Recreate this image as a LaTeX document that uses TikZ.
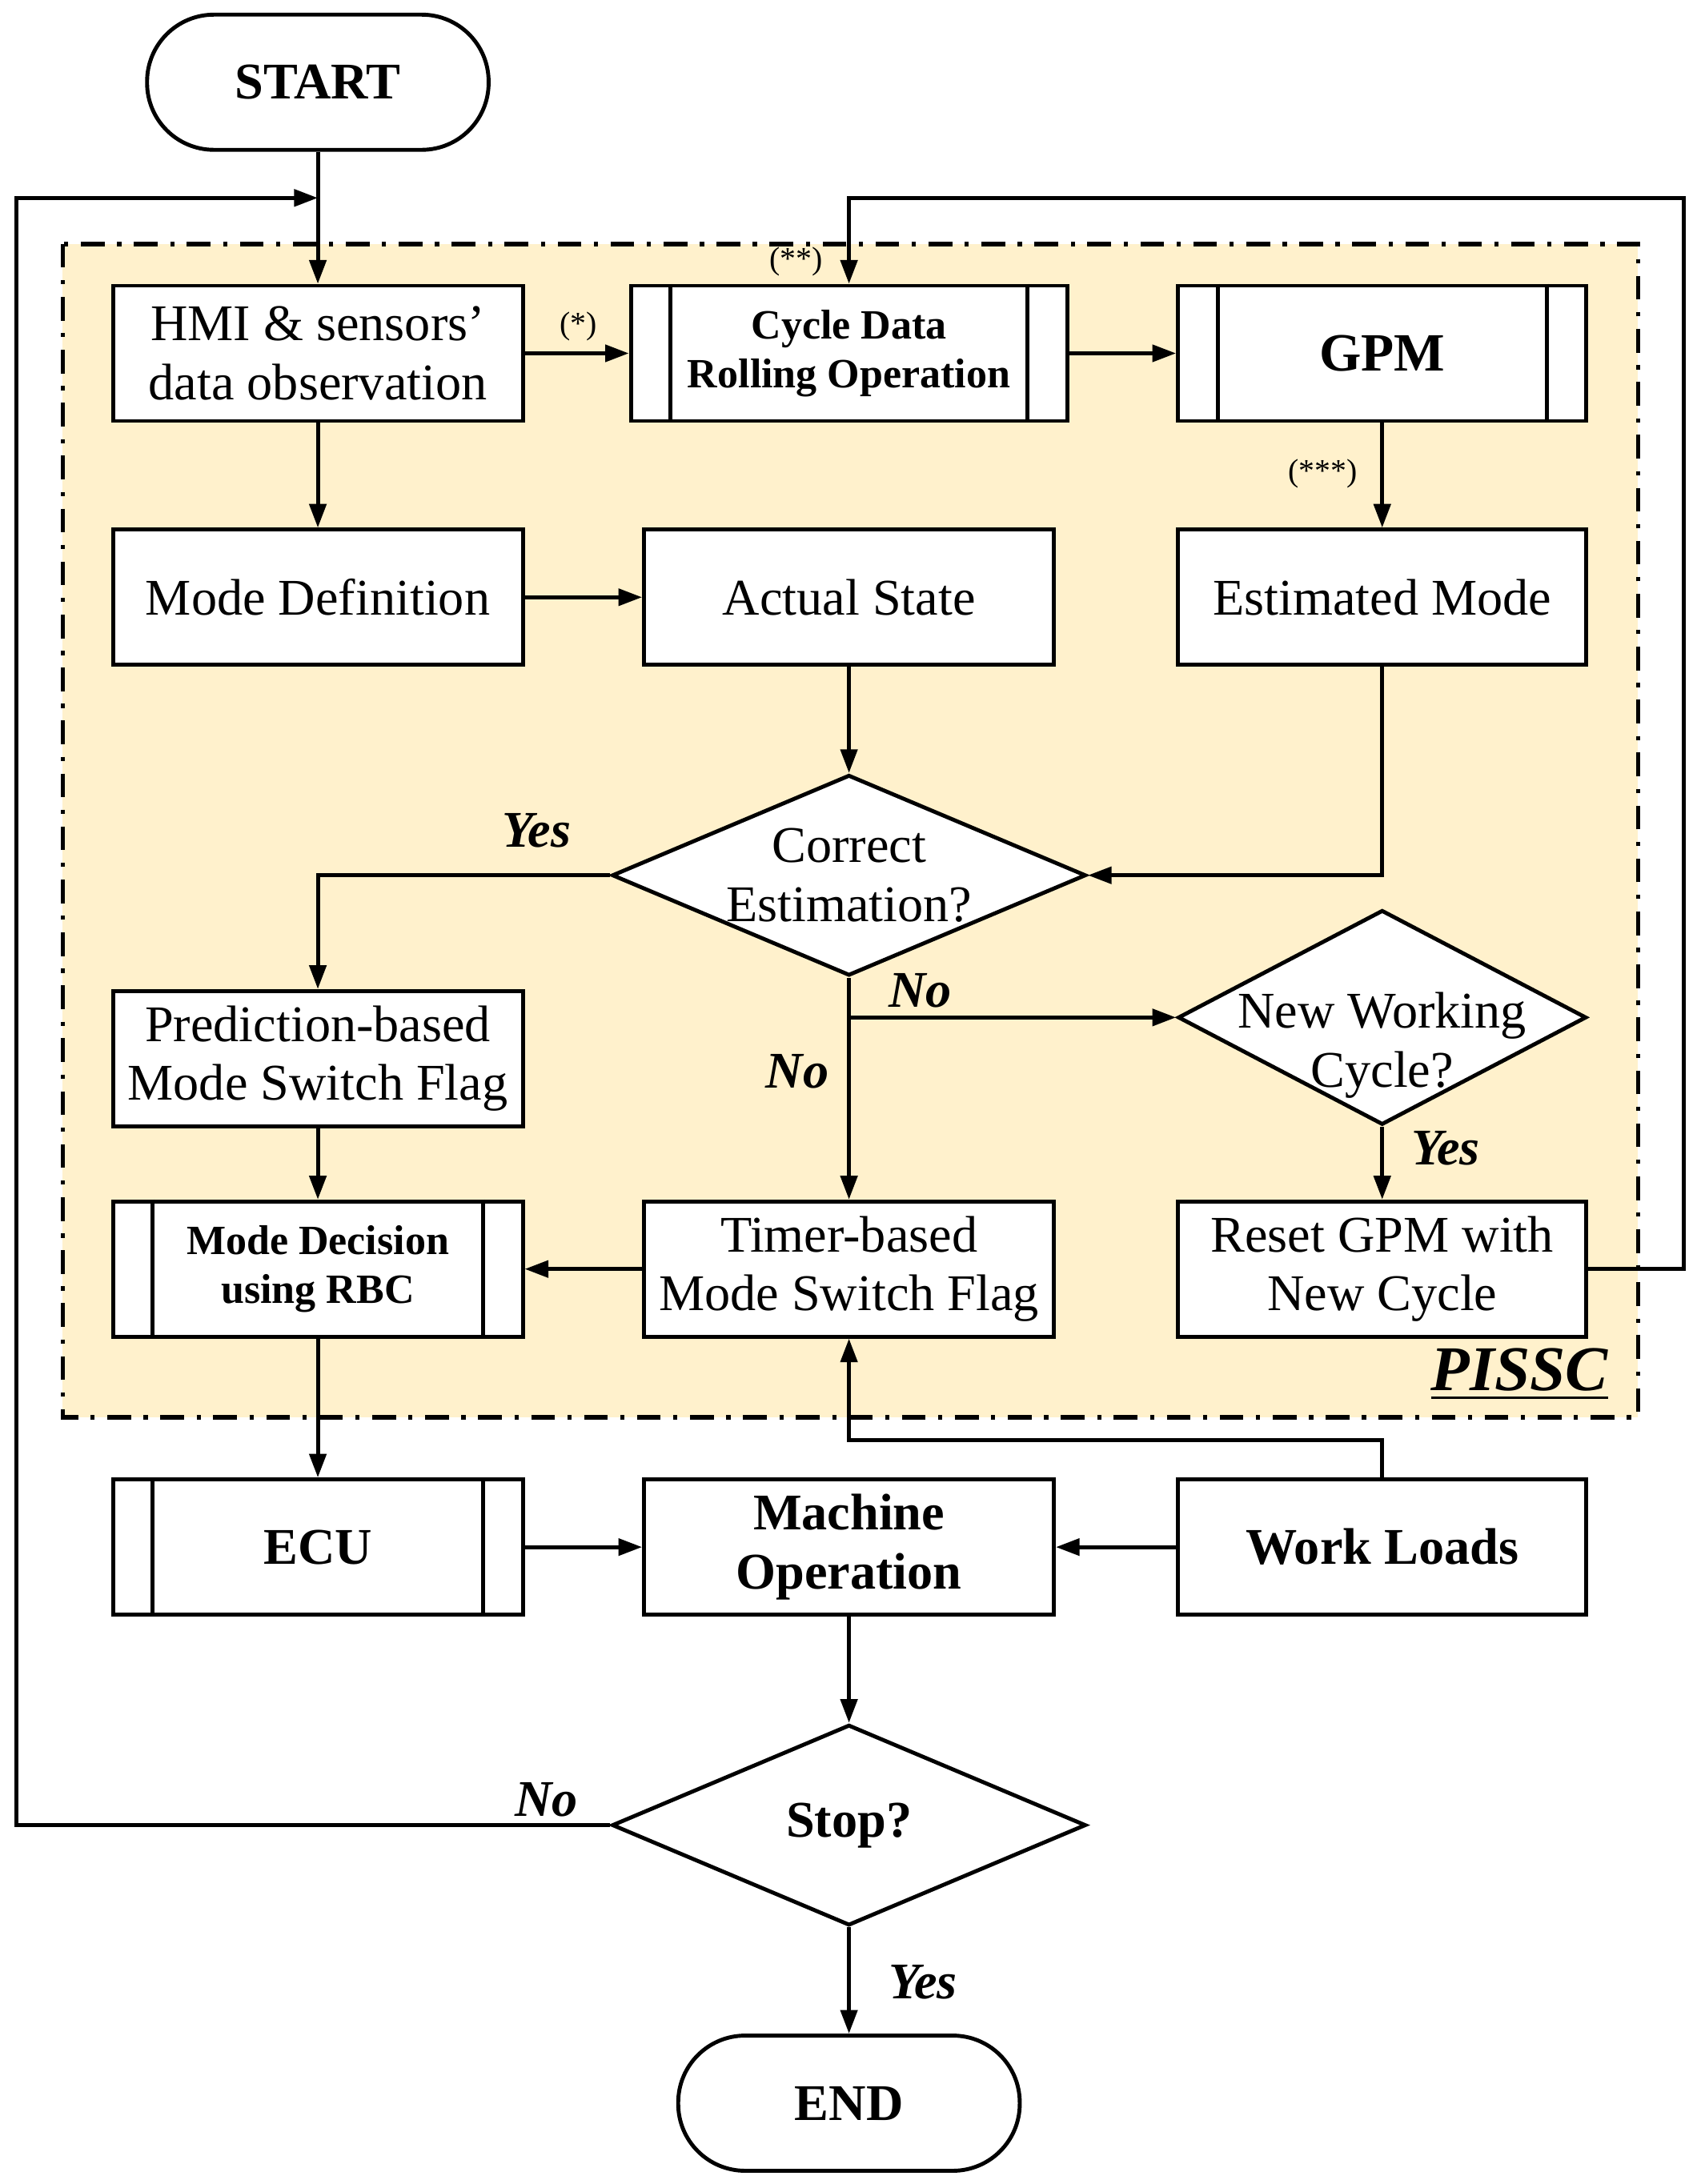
\documentclass[tikz,border=0pt]{standalone}
\usepackage{fontspec}
\setmainfont{Liberation Serif}
\usetikzlibrary{shapes.geometric,arrows.meta}
\definecolor{pisscbg}{RGB}{255,241,204}
\tikzset{
  box/.style={draw, fill=white, rectangle, minimum width=2.94cm, minimum height=0.97cm, align=center, inner sep=1pt, font=\fontsize{10.5}{12}\selectfont},
  subbox/.style={box, font=\fontsize{8.5}{10}\selectfont\bfseries},
  bigbox/.style={box, font=\fontsize{10.5}{12}\selectfont\bfseries},
  term/.style={draw, fill=white, rounded corners=4.8mm, minimum width=2.45cm, minimum height=0.97cm, font=\fontsize{10.5}{12}\selectfont\bfseries},
  decide/.style={draw, fill=white, diamond, inner sep=0pt, minimum width=3.4cm, minimum height=1.44cm},
  dtext/.style={align=center, font=\fontsize{10.5}{12}\selectfont},
  tag/.style={font=\fontsize{10.5}{12}\selectfont\bfseries\itshape},
  note/.style={font=\fontsize{6.5}{7}\selectfont},
  arr/.style={-{Triangle[length=1.7mm,width=1.2mm]}},
}
\begin{document}
\begin{tikzpicture}[x=1cm,y=-1cm,line width=0.8pt]
\useasboundingbox (0,0) rectangle (12.2,15.67);
% PISSC region
\draw[fill=pisscbg, line width=0.9pt, dash pattern=on 1.7mm off 0.9mm on 0.3mm off 0.9mm] (0.45,1.75) rectangle (11.75,10.17);
\node[font=\fontsize{13}{15}\selectfont\bfseries\itshape] (pissc) at (10.90,9.86) {\underline{PISSC}};
% nodes
\node[term] (start) at (2.28,0.59) {START};
\node[box] (hmi) at (2.28,2.535) {HMI \& sensors’\\data observation};
\node[subbox, minimum width=3.13cm] (cycle) at (6.09,2.535) {Cycle Data\\Rolling Operation};
\node[bigbox, minimum width=2.93cm, font=\fontsize{11}{13}\selectfont\bfseries] (gpm) at (9.915,2.535) {GPM};
\node[box] (modedef) at (2.28,4.285) {Mode Definition};
\node[box] (actual) at (6.09,4.285) {Actual State};
\node[box, minimum width=2.93cm] (estim) at (9.915,4.285) {Estimated Mode};
\node[decide, label={[dtext]center:Correct\\Estimation?}] (corr) at (6.09,6.28) {};
\node[box] (pred) at (2.28,7.595) {Prediction-based\\Mode Switch Flag};
\node[decide, minimum width=2.93cm, minimum height=1.54cm, label={[dtext, yshift=-2mm]center:New Working\\Cycle?}] (newcyc) at (9.915,7.30) {};
\node[subbox] (rbc) at (2.28,9.105) {Mode Decision\\using RBC};
\node[box] (timer) at (6.09,9.105) {Timer-based\\Mode Switch Flag};
\node[box, minimum width=2.93cm] (reset) at (9.915,9.105) {Reset GPM with\\New Cycle};
\node[bigbox] (ecu) at (2.28,11.10) {ECU};
\node[bigbox] (machine) at (6.09,11.10) {Machine\\Operation};
\node[bigbox, minimum width=2.93cm] (loads) at (9.915,11.10) {Work Loads};
\node[decide, font=\fontsize{10.5}{12}\selectfont\bfseries] (stop) at (6.09,13.095) {Stop?};
\node[term] (end) at (6.09,15.09) {END};
% side bars of the sub-process boxes
\foreach \n in {cycle,gpm,rbc,ecu}{
  \draw ([xshift=3mm]\n.north west) -- ([xshift=3mm]\n.south west);
  \draw ([xshift=-3mm]\n.north east) -- ([xshift=-3mm]\n.south east);
}
% small labels
\node[note] (n1) at (4.15,2.34) {(*)};
\node[note] (n2) at (5.71,1.88) {(**)};
\node[note] (n3) at (9.49,3.40) {(***)};
\node[tag] (yes1) at (3.85,5.96) {Yes};
\node[tag] (no1) at (5.72,7.69) {No};
\node[tag] (no2) at (6.60,7.11) {No};
\node[tag] (yes2) at (10.37,8.24) {Yes};
\node[tag] (no3) at (3.92,12.91) {No};
\node[tag] (yes3) at (6.62,14.22) {Yes};
% connectors
\coordinate (loopL) at (0.12,1.42);
\coordinate (join) at (2.28,1.42);
\coordinate (loopR) at (12.08,1.42);
\draw[arr] (start) -- (hmi);
\draw[arr] (stop.west) -| (loopL) -- (join);
\draw[arr] (hmi) -- (cycle);
\draw[arr] (cycle) -- (gpm);
\draw[arr] (gpm) -- (estim);
\draw[arr] (hmi) -- (modedef);
\draw[arr] (modedef) -- (actual);
\draw[arr] (actual) -- (corr);
\draw[arr] (estim.south) |- (corr.east);
\draw[arr] (corr.west) -| (pred.north);
\draw[arr] (corr.south) -- (timer.north);
\draw[arr] (corr.south |- newcyc.west) -- (newcyc.west);
\draw[arr] (newcyc) -- (reset);
\draw[arr] (reset.east) -| (loopR) -| (cycle.north);
\draw[arr] (pred) -- (rbc);
\draw[arr] (timer) -- (rbc);
\draw[arr] (rbc) -- (ecu);
\draw[arr] (ecu) -- (machine);
\draw[arr] (loads) -- (machine);
\draw[arr] (loads.north) -- ++(0,-0.27) -| (timer.south);
\draw[arr] (machine) -- (stop);
\draw[arr] (stop) -- (end);
\end{tikzpicture}
\end{document}
